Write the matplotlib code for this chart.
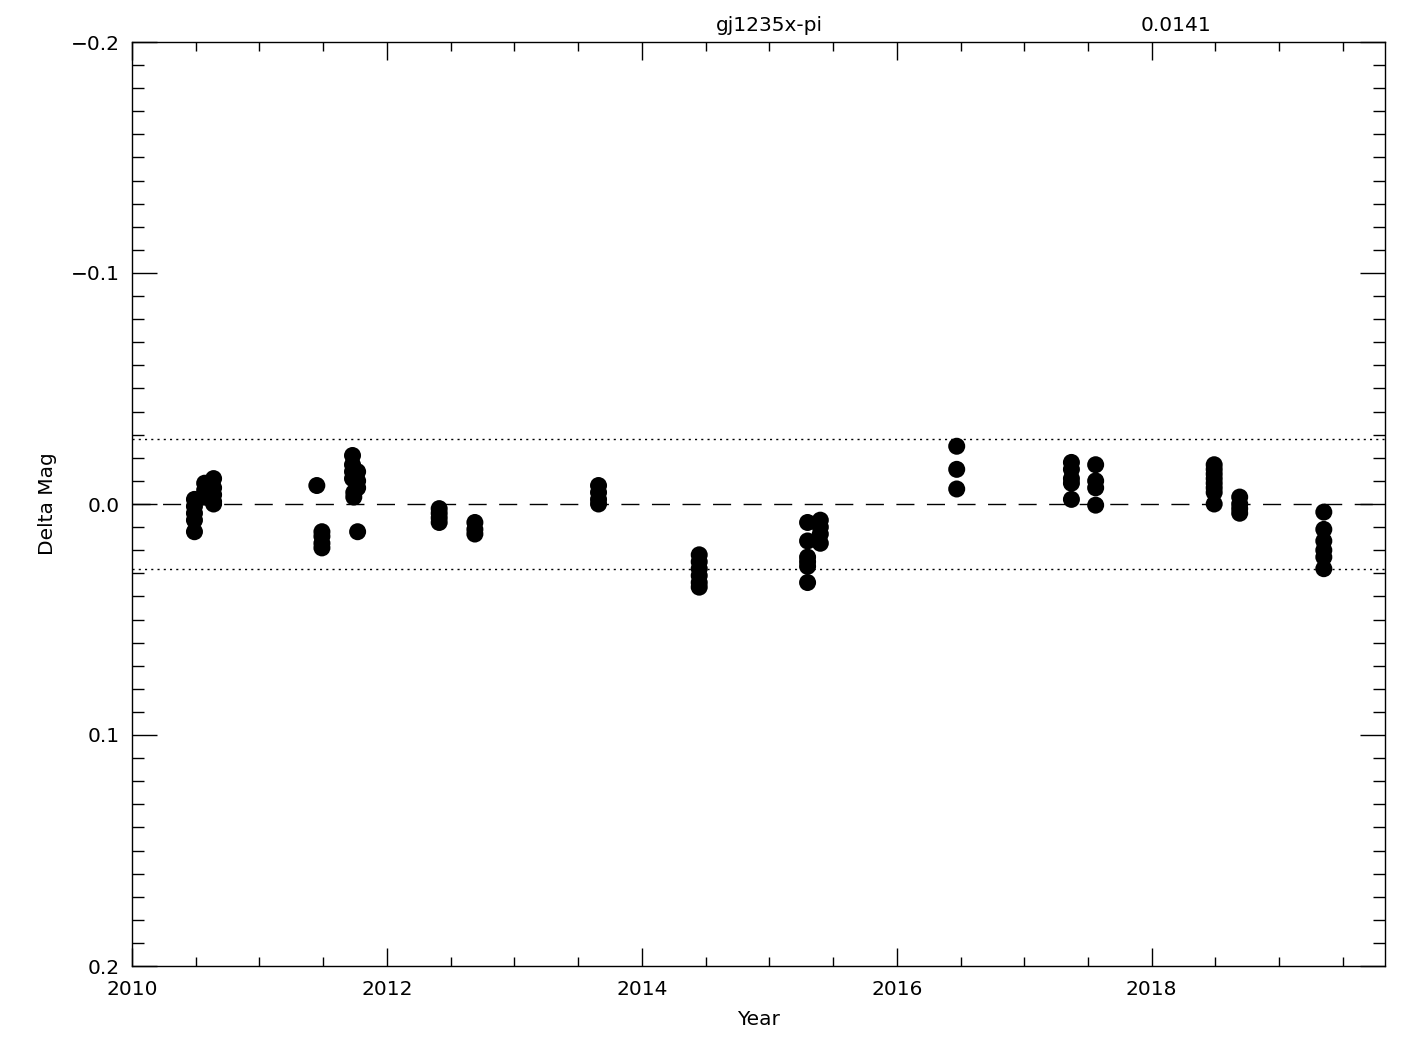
import matplotlib
matplotlib.use("Agg")
import matplotlib.pyplot as plt
from matplotlib.ticker import MultipleLocator

# star name and scatter (rms) shown at the top
star = "gj1235x-pi"
rms = 0.0141

# observations: decimal year and delta magnitude
year = [2010.49, 2010.49, 2010.49, 2010.49, 2010.49,
        2010.57, 2010.57, 2010.57,
        2010.64, 2010.64, 2010.64, 2010.64, 2010.64,
        2011.45,
        2011.49, 2011.49, 2011.49, 2011.49,
        2011.73, 2011.73, 2011.73, 2011.73, 2011.74, 2011.74,
        2011.77, 2011.77, 2011.77, 2011.77,
        2012.41, 2012.41, 2012.41, 2012.41,
        2012.69, 2012.69, 2012.69,
        2013.66, 2013.66, 2013.66, 2013.66,
        2014.45, 2014.45, 2014.45, 2014.45, 2014.45, 2014.45,
        2015.30, 2015.30, 2015.30, 2015.30, 2015.30, 2015.30,
        2015.40, 2015.40, 2015.40, 2015.40,
        2016.47, 2016.47, 2016.47,
        2017.37, 2017.37, 2017.37, 2017.37, 2017.37,
        2017.56, 2017.56, 2017.56, 2017.56,
        2018.49, 2018.49, 2018.49, 2018.49, 2018.49, 2018.49, 2018.49, 2018.49,
        2018.69, 2018.69, 2018.69, 2018.69,
        2019.35, 2019.35, 2019.35, 2019.35, 2019.35, 2019.35]
dmag = [-0.002, 0.001, 0.004, 0.007, 0.012,
        -0.009, -0.006, -0.003,
        -0.011, -0.007, -0.004, -0.001, 0.000,
        -0.008,
        0.012, 0.014, 0.017, 0.019,
        -0.021, -0.017, -0.014, -0.011, -0.003, -0.005,
        -0.014, -0.010, -0.007, 0.012,
        0.002, 0.004, 0.006, 0.008,
        0.008, 0.011, 0.013,
        -0.008, -0.005, -0.002, 0.000,
        0.022, 0.025, 0.028, 0.031, 0.034, 0.036,
        0.008, 0.016, 0.023, 0.025, 0.027, 0.034,
        0.007, 0.010, 0.013, 0.017,
        -0.025, -0.015, -0.0065,
        -0.018, -0.015, -0.011, -0.009, -0.002,
        -0.017, -0.010, -0.007, 0.0005,
        -0.017, -0.015, -0.013, -0.011, -0.009, -0.007, -0.005, 0.000,
        -0.003, 0.000, 0.002, 0.004,
        0.0035, 0.011, 0.016, 0.020, 0.023, 0.028]

fig = plt.figure(figsize=(14.25, 10.5), dpi=100)
ax = fig.add_axes([132 / 1425, 1 - 966 / 1050, (1385 - 132) / 1425, (966 - 42) / 1050])

ax.scatter(year, dmag, s=150, c="black", edgecolors="none", zorder=3)

ax.axhline(0.0, color="black", lw=1.0, dashes=(13, 9))
ax.axhline(2 * rms, color="black", lw=1.0, dashes=(1.5, 3))
ax.axhline(-2 * rms, color="black", lw=1.0, dashes=(1.5, 3))

ax.set_xlim(2010, 2019.83)
ax.set_ylim(0.2, -0.2)

ax.xaxis.set_major_locator(MultipleLocator(2))
ax.xaxis.set_minor_locator(MultipleLocator(0.5))
ax.yaxis.set_minor_locator(MultipleLocator(0.01))
ax.set_yticks([-0.2, -0.1, 0.0, 0.1, 0.2])
ax.set_yticklabels(["\u22120.2", "\u22120.1", "0.0", "0.1", "0.2"])

ax.tick_params(axis="both", which="both", direction="in", top=True, right=True,
               width=1.0, labelsize=14.5)
ax.tick_params(axis="x", which="major", length=13, pad=10)
ax.tick_params(axis="x", which="minor", length=6.5)
ax.tick_params(axis="y", which="major", length=18, pad=9)
ax.tick_params(axis="y", which="minor", length=8.7)
for sp in ax.spines.values():
    sp.set_linewidth(1.0)

ax.set_xlabel("Year", fontsize=14.5, labelpad=8)
ax.set_ylabel("Delta Mag", fontsize=14.5, labelpad=10)

ax.text(0.509, 1.008, star, transform=ax.transAxes, ha="center", va="bottom", fontsize=14.5)
ax.text(0.833, 1.008, "%.4f" % rms, transform=ax.transAxes, ha="center", va="bottom", fontsize=14.5)

fig.savefig("out.png", dpi=100)
